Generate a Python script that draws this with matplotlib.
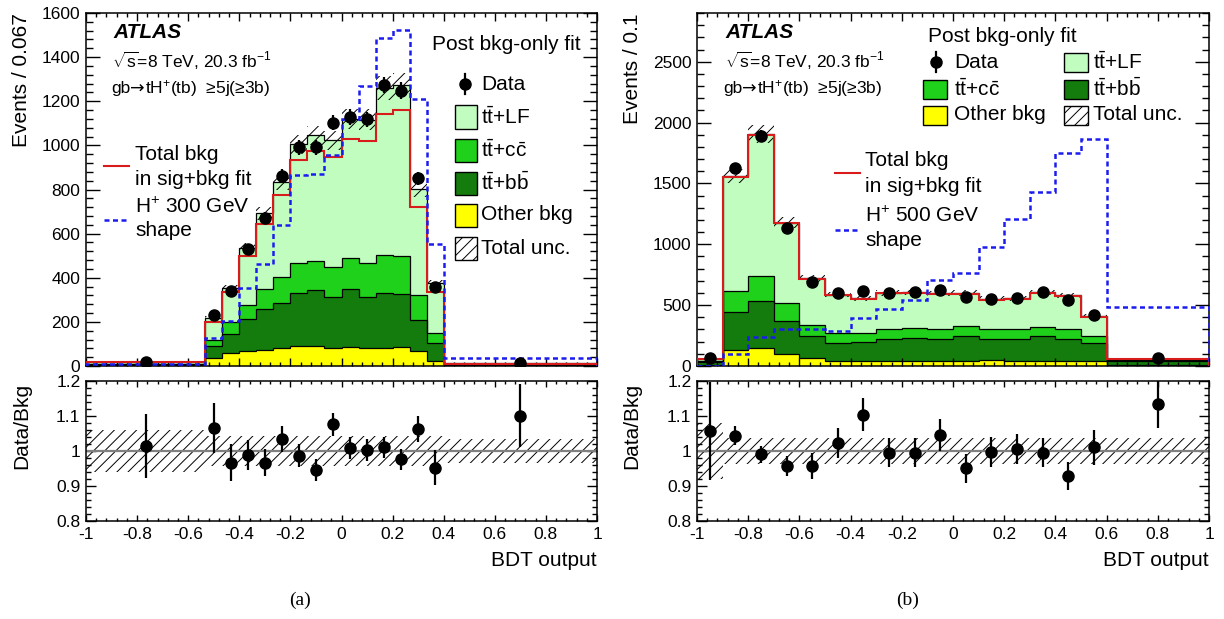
import numpy as np
import matplotlib
matplotlib.use('Agg')
import matplotlib.pyplot as plt
from matplotlib.ticker import MultipleLocator, FuncFormatter
from matplotlib.patches import Rectangle
from matplotlib.lines import Line2D

plt.rcParams['font.family'] = ['Liberation Sans', 'DejaVu Sans']
plt.rcParams['mathtext.fontset'] = 'custom'
plt.rcParams['mathtext.rm'] = 'Liberation Sans'
plt.rcParams['mathtext.it'] = 'Liberation Sans:italic'
plt.rcParams['mathtext.bf'] = 'Liberation Sans:bold'
plt.rcParams['axes.unicode_minus'] = False
plt.rcParams['hatch.linewidth'] = 0.7

# ---------------- panel (a): H+ 300 GeV, events / 0.067
edges_a = [-1, -0.5333, -0.4667, -0.4, -0.3333, -0.2667, -0.2, -0.1333, -0.0667,
           0, 0.0667, 0.1333, 0.2, 0.2667, 0.3333, 0.4, 1]
other_a = [2, 35, 60, 68, 72, 80, 92, 92, 83, 85, 83, 83, 88, 68, 23, 1]
ttbb_a = [3, 56, 85, 145, 185, 207, 240, 252, 228, 265, 231, 249, 238, 140, 80, 3]
ttcc_a = [3, 27, 53, 64, 91, 118, 136, 132, 136, 138, 151, 171, 173, 114, 45, 2]
ttlf_a = [10, 98, 156, 257, 345, 427, 536, 570, 577, 632, 651, 757, 776, 479, 227, 6]
unc_a = [0.06] + [0.042] * 14 + [0.035]
sigbkg_a = [16, 201, 337, 499, 644, 775, 934, 975, 949, 1029, 1021, 1141, 1160, 722, 337, 11]
hplus_a = [9, 128, 204, 355, 462, 641, 866, 872, 956, 1118, 1271, 1485, 1523, 1210, 552, 35]
data_a = [18, 231, 341, 529, 672, 861, 991, 991, 1103, 1130, 1118, 1274, 1248, 851, 357, 13]
ratio_a = [1.015, 1.065, 0.966, 0.988, 0.967, 1.034, 0.987, 0.945, 1.077, 1.008,
           1.002, 1.01, 0.977, 1.063, 0.952, 1.101]
rerr_a = [0.092, 0.072, 0.053, 0.043, 0.038, 0.036, 0.033, 0.031, 0.033, 0.032,
          0.031, 0.030, 0.030, 0.037, 0.05, 0.089]

# ---------------- panel (b): H+ 500 GeV, events / 0.1
edges_b = [-1, -0.9, -0.8, -0.7, -0.6, -0.5, -0.4, -0.3, -0.2, -0.1,
           0, 0.1, 0.2, 0.3, 0.4, 0.5, 0.6, 1]
other_b = [8, 130, 149, 97, 62, 42, 42, 41, 41, 45, 45, 48, 45, 45, 45, 45, 5]
ttbb_b = [27, 310, 381, 269, 186, 143, 156, 179, 190, 175, 202, 175, 178, 200, 178, 140, 40]
ttcc_b = [10, 177, 211, 148, 85, 82, 77, 80, 82, 82, 80, 77, 79, 77, 77, 60, 7]
ttlf_b = [14, 943, 1164, 662, 386, 318, 280, 301, 291, 294, 271, 252, 253, 282, 280, 167, 7]
unc_b = [0.08] + [0.038] * 16
sigbkg_b = [58, 1555, 1900, 1172, 716, 580, 550, 597, 600, 592, 594, 545, 548, 598, 572, 405, 60]
hplus_b = [3, 97, 239, 308, 300, 289, 398, 467, 541, 708, 768, 979, 1204, 1426, 1746, 1861, 481]
data_b = [62, 1628, 1889, 1130, 691, 601, 615, 601, 604, 623, 568, 552, 560, 604, 540, 418, 68]
ratio_b = [1.056, 1.044, 0.991, 0.958, 0.958, 1.022, 1.104, 0.995, 0.995, 1.046,
           0.95, 0.998, 1.006, 0.995, 0.928, 1.01, 1.135]
rerr_b = [0.14, 0.027, 0.024, 0.029, 0.037, 0.043, 0.046, 0.042, 0.042, 0.045,
          0.04, 0.043, 0.043, 0.041, 0.04, 0.049, 0.07]

c_other = '#ffff00'
c_bb = '#137c0c'
c_cc = '#1fd11a'
c_lf = '#c2fdc0'
c_red = '#d81c1c'
c_blue = '#1c1cf0'

W, H = 1224, 619
fig = plt.figure(figsize=(W / 100, H / 100), dpi=100)


def axes_px(x0, y0, x1, y1):
    return fig.add_axes([x0 / W, 1 - y1 / H, (x1 - x0) / W, (y1 - y0) / H])


def fmt(v, pos):
    return f'{round(v, 2) + 0.0:g}'


def style(ax, ratio=False):
    ax.set_xlim(-1, 1)
    ax.xaxis.set_major_locator(MultipleLocator(0.2))
    ax.xaxis.set_minor_locator(MultipleLocator(0.04))
    ax.xaxis.set_major_formatter(FuncFormatter(fmt))
    ax.tick_params(which='both', direction='in', top=True, right=True, width=1,
                   labelsize=12.5, pad=4)
    ax.tick_params(axis='y', which='major', length=10 if not ratio else 7)
    ax.tick_params(axis='y', which='minor', length=5 if not ratio else 3.5)
    ax.tick_params(axis='x', which='major', length=6 if not ratio else 4)
    ax.tick_params(axis='x', which='minor', length=3 if not ratio else 2)
    for s in ax.spines.values():
        s.set_linewidth(1.1)


def draw(ax, rax, edges, other, ttbb, ttcc, ttlf, unc, sigbkg, hplus, data, ratio, rerr):
    edges = np.array(edges)
    centers = 0.5 * (edges[1:] + edges[:-1])
    base = np.zeros(len(edges) - 1)
    tops = []
    for vals, col in [(other, c_other), (ttbb, c_bb), (ttcc, c_cc), (ttlf, c_lf)]:
        top = base + np.array(vals)
        ax.stairs(top, edges, baseline=base, fill=True, facecolor=col, edgecolor='none', zorder=1)
        tops.append(top)
        base = top
    for top in tops:
        ax.stairs(top, edges, color='black', lw=0.9, zorder=2)
    total = base
    unc = np.array(unc)
    ax.stairs(total * (1 + unc), edges, baseline=total * (1 - unc), fill=True,
              facecolor='none', edgecolor='black', hatch='///', lw=0, zorder=3)
    ax.stairs(sigbkg, edges, color=c_red, lw=1.5, zorder=4)
    ax.stairs(hplus, edges, color=c_blue, lw=1.8, ls=(0, (2, 1.4)), zorder=5)
    ax.errorbar(centers, data, yerr=np.array(rerr) * total, fmt='o', color='black',
                ms=8, elinewidth=1.6, capsize=0, zorder=6)

    rax.stairs(1 + unc, edges, baseline=1 - unc, fill=True, facecolor='none',
               edgecolor='black', hatch='///', lw=0, zorder=1)
    rax.axhline(1, color='#808080', lw=1.6, zorder=2)
    rax.errorbar(centers, ratio, yerr=rerr, fmt='o', color='black', ms=8,
                 elinewidth=1.6, capsize=0, zorder=3)
    rax.set_ylim(0.8, 1.2)
    rax.yaxis.set_major_locator(MultipleLocator(0.1))
    rax.yaxis.set_minor_locator(MultipleLocator(0.02))
    rax.yaxis.set_major_formatter(FuncFormatter(fmt))
    style(ax)
    style(rax, ratio=True)
    ax.tick_params(labelbottom=False)


axA = axes_px(86, 13, 597, 366)
rA = axes_px(86, 381, 597, 521)
axB = axes_px(697, 13, 1209, 366)
rB = axes_px(697, 381, 1209, 521)

draw(axA, rA, edges_a, other_a, ttbb_a, ttcc_a, ttlf_a, unc_a, sigbkg_a, hplus_a,
     data_a, ratio_a, rerr_a)
draw(axB, rB, edges_b, other_b, ttbb_b, ttcc_b, ttlf_b, unc_b, sigbkg_b, hplus_b,
     data_b, ratio_b, rerr_b)

axA.set_ylim(0, 1600)
axA.yaxis.set_major_locator(MultipleLocator(200))
axA.yaxis.set_minor_locator(MultipleLocator(40))
axB.set_ylim(0, 2900)
axB.yaxis.set_major_locator(MultipleLocator(500))
axB.yaxis.set_minor_locator(MultipleLocator(100))

renderer = fig.canvas.get_renderer()


# ---------------- text and legends in pixel coordinates
def txt(x, y, s, **kw):
    kw.setdefault('va', 'center')
    kw.setdefault('fontsize', 15)
    return fig.text(x / W, 1 - y / H, s, **kw)


def seq_txt(x, y, parts, **kw):
    # pieces of one line written one after another, each in its own font
    for s, fam in parts:
        t = txt(x, y, s, family=fam, **kw)
        x += t.get_window_extent(renderer).width


def box(x0, yc, w, h, color, hatch=None):
    fig.add_artist(Rectangle((x0 / W, 1 - (yc + h / 2) / H), w / W, h / H,
                             transform=fig.transFigure, facecolor=color,
                             edgecolor='black', lw=1, hatch=hatch))


def hline(x0, x1, y, **kw):
    fig.add_artist(Line2D([x0 / W, x1 / W], [1 - y / H] * 2, transform=fig.transFigure, **kw))


def data_marker(x, y):
    fig.add_artist(Line2D([x / W] * 2, [1 - (y - 10) / H, 1 - (y + 10) / H],
                          transform=fig.transFigure, color='black', lw=1.6))
    fig.add_artist(Line2D([x / W], [1 - y / H], transform=fig.transFigure,
                          marker='o', ms=8, color='black'))


lab_lf = r'$\mathrm{t\bar{t}}$+LF'
lab_cc = r'$\mathrm{t\bar{t}}$+$\mathrm{c\bar{c}}$'
lab_bb = r'$\mathrm{t\bar{t}}$+$\mathrm{b\bar{b}}$'
lab_lumi = r'$\sqrt{\mathrm{s}}$=8 TeV, 20.3 fb$^{\mathrm{-1}}$'
chan_parts = [('gb', ['Liberation Sans']), ('→', ['DejaVu Sans']),
              (r'tH$^{+}$(tb)  ≥5j(≥3b)', ['Liberation Sans', 'DejaVu Sans'])]

# panel (a)
txt(113, 33, 'ATLAS', fontsize=15, fontweight='bold', fontstyle='italic')
txt(112, 61, lab_lumi, fontsize=12.5)
seq_txt(111, 89, chan_parts, fontsize=12.5)
txt(432, 45, 'Post bkg-only fit')
data_marker(465, 84)
txt(481, 84, 'Data')
for yc, lab, col, hatch in [(117, lab_lf, c_lf, None), (150, lab_cc, c_cc, None),
                            (183, lab_bb, c_bb, None), (215, 'Other bkg', c_other, None),
                            (248, 'Total unc.', 'white', '///')]:
    box(455, yc, 22, 23, col, hatch)
    txt(481, yc, lab)
hline(104, 129, 166, color=c_red, lw=1.5)
txt(135, 155, 'Total bkg')
txt(135, 180, 'in sig+bkg fit')
hline(104, 129, 220, color=c_blue, lw=1.8, ls=(0, (2, 1.4)))
txt(135, 207, r'H$^{+}$ 300 GeV')
txt(135, 230, 'shape')

# panel (b)
txt(725, 33, 'ATLAS', fontsize=15, fontweight='bold', fontstyle='italic')
txt(725, 61, lab_lumi, fontsize=12.5)
seq_txt(723, 89, chan_parts, fontsize=12.5)
txt(928, 36, 'Post bkg-only fit')
data_marker(936, 62)
txt(954, 62, 'Data')
box(1064, 62, 24, 19, c_lf)
txt(1093, 62, lab_lf)
box(923, 89, 24, 19, c_cc)
txt(954, 89, lab_cc)
box(1064, 89, 24, 19, c_bb)
txt(1093, 89, lab_bb)
box(923, 115, 24, 19, c_other)
txt(954, 115, 'Other bkg')
box(1064, 115, 24, 19, 'white', '///')
txt(1093, 115, 'Total unc.')
hline(835, 860, 173, color=c_red, lw=1.5)
txt(865, 160, 'Total bkg')
txt(865, 186, 'in sig+bkg fit')
hline(835, 860, 230, color=c_blue, lw=1.8, ls=(0, (2, 1.4)))
txt(865, 216, r'H$^{+}$ 500 GeV')
txt(865, 240, 'shape')

# axis titles
txt(22, 13, 'Events / 0.067', rotation=90, ha='center', va='top')
txt(22, 383, 'Data/Bkg', rotation=90, ha='center', va='top')
txt(632, 13, 'Events / 0.1', rotation=90, ha='center', va='top')
txt(632, 383, 'Data/Bkg', rotation=90, ha='center', va='top')
txt(597, 560, 'BDT output', ha='right')
txt(1209, 560, 'BDT output', ha='right')
txt(300, 600, '(a)', ha='center', family=['Liberation Serif', 'DejaVu Serif'], fontsize=14)
txt(908, 600, '(b)', ha='center', family=['Liberation Serif', 'DejaVu Serif'], fontsize=14)

fig.savefig('out.png', dpi=100)
